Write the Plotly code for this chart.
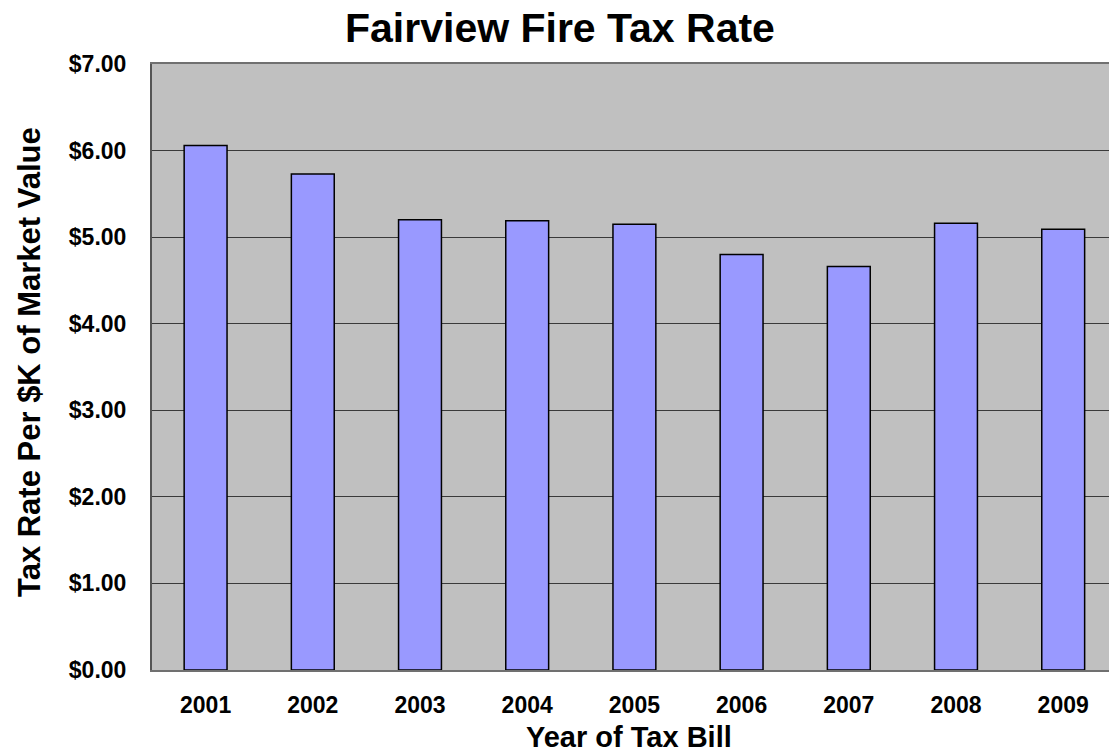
import plotly.graph_objects as go

# Fire district tax rate per $1,000 of market value, by tax bill year
years = ["2001", "2002", "2003", "2004", "2005", "2006", "2007", "2008", "2009"]
rates = [6.06, 5.73, 5.20, 5.19, 5.15, 4.80, 4.66, 5.16, 5.09]

W, H = 1109, 753
ML, MT, MB = 152, 64, 83
FONT = "Liberation Sans, Arial, sans-serif"

fig = go.Figure(
    go.Bar(
        x=years,
        y=rates,
        width=0.4,
        marker=dict(color="#9999FF", line=dict(color="#000000", width=1.5)),
        hoverinfo="x+y",
    )
)

# category spacing is ~107 px; the plot area runs a little past the right edge
unit = 107.2
right_cut = 8.5 - (ML + 9 * unit - W) / unit

fig.update_layout(
    width=W,
    height=H,
    margin=dict(l=ML, r=0, t=MT, b=MB, pad=0),
    paper_bgcolor="#FFFFFF",
    plot_bgcolor="#C0C0C0",
    showlegend=False,
    font=dict(family=FONT, color="#000000"),
    xaxis=dict(
        type="category",
        range=[-0.5, right_cut],
        showgrid=False,
        showline=True,
        mirror=True,
        linecolor="#707070",
        linewidth=1.5,
        ticks="",
        ticklabelstandoff=14,
        tickfont=dict(family=FONT, size=23, color="#000000", weight="bold"),
        fixedrange=True,
    ),
    yaxis=dict(
        range=[0, 7],
        dtick=1,
        tickformat="$.2f",
        showgrid=True,
        gridcolor="#3a3a3a",
        gridwidth=1,
        zeroline=False,
        showline=True,
        linecolor="#555555",
        linewidth=2,
        ticks="",
        ticklabelstandoff=19,
        tickfont=dict(family=FONT, size=23, color="#000000", weight="bold"),
        fixedrange=True,
    ),
    annotations=[
        dict(
            text="<b>Fairview Fire Tax Rate</b>",
            xref="paper", yref="paper",
            x=(560 - ML) / (W - ML), y=1 + (MT - 28) / (H - MT - MB),
            xanchor="center", yanchor="middle",
            showarrow=False,
            font=dict(family=FONT, size=41, color="#000000"),
        ),
        dict(
            text="<b>Year of Tax Bill</b>",
            xref="paper", yref="paper",
            x=(629 - ML) / (W - ML), y=-(737 - (H - MB)) / (H - MT - MB),
            xanchor="center", yanchor="middle",
            showarrow=False,
            font=dict(family=FONT, size=29, color="#000000"),
        ),
        dict(
            text="<b>Tax Rate Per $K of Market Value</b>",
            xref="paper", yref="paper",
            x=-(ML - 29) / (W - ML), y=1 - (362 - MT) / (H - MT - MB),
            xanchor="center", yanchor="middle",
            textangle=-90,
            showarrow=False,
            font=dict(family=FONT, size=31, color="#000000"),
        ),
    ],
)

fig.write_html("out.html")
